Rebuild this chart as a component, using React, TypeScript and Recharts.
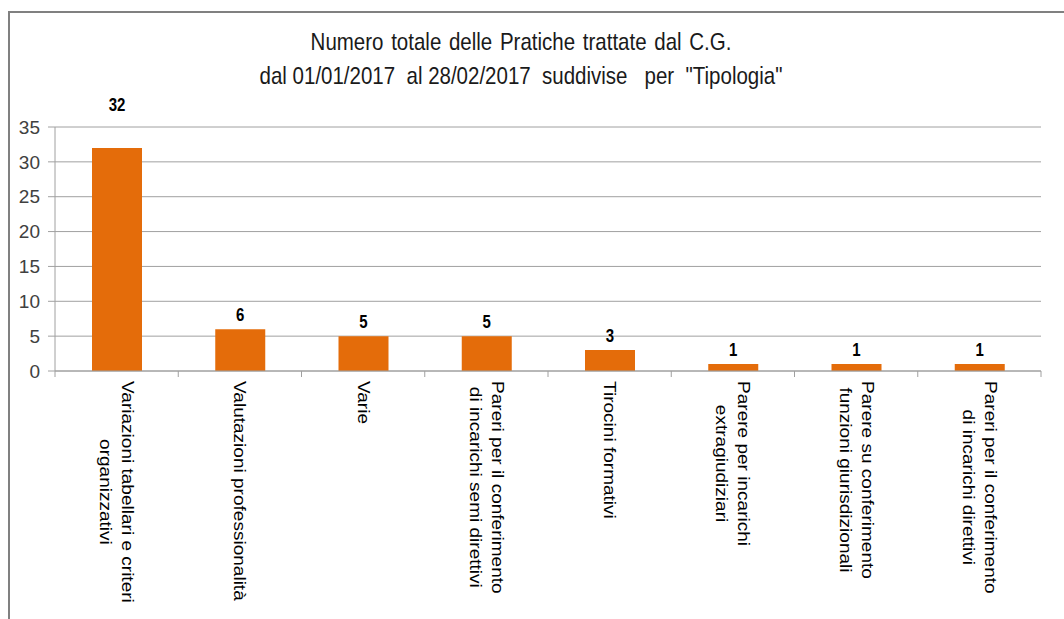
import { Bar, BarChart, CartesianGrid, LabelList, XAxis, YAxis } from "recharts";

const categories = [
  "Variazioni tabellari e criteri\norganizzativi",
  "Valutazioni professionalità",
  "Varie",
  "Pareri per il conferimento\ndi incarichi semi direttivi",
  "Tirocini formativi",
  "Parere per incarichi\nextragiudiziari",
  "Parere su conferimento\nfunzioni giurisdizionali",
  "Pareri per il conferimento\ndi incarichi direttivi",
];
const pratiche = [32, 6, 5, 5, 3, 1, 1, 1];
const yTicks = [0, 5, 10, 15, 20, 25, 30, 35];
const titleLines = [
  "Numero totale delle Pratiche trattate dal C.G.",
  'dal 01/01/2017  al 28/02/2017  suddivise   per  "Tipologia"',
];

const W = 1064;
const H = 619;
const M = { top: 127, right: 23, bottom: 0, left: 0 };
const Y_AXIS_W = 55;
const X_AXIS_H = 248;
const PLOT_W = W - M.left - Y_AXIS_W - M.right;
const PLOT_BOTTOM = H - X_AXIS_H;
const STRETCH = 1.19; // the source image is stretched vertically
const FONT = "'Liberation Sans', Arial, sans-serif";
const LABEL_FONT = `16px ${FONT}`;
const GRID = "#a0a0a0";

const data = categories.map((name, i) => ({ name, value: pratiche[i] }));

let ctx: CanvasRenderingContext2D | null = null;
function textWidth(s: string) {
  if (!ctx) ctx = document.createElement("canvas").getContext("2d");
  if (!ctx) return s.length * 8;
  ctx.font = LABEL_FONT;
  return ctx.measureText(s).width;
}

function CategoryTick(props: any) {
  const { x, payload, index } = props;
  const band = PLOT_W / categories.length;
  const lines = String(payload.value).split("\n");
  const longest = Math.max(...lines.map(textWidth));
  const lineH = 22;
  const y0 = PLOT_BOTTOM + 10;
  return (
    <g>
      <line x1={x - band / 2} x2={x - band / 2} y1={PLOT_BOTTOM} y2={PLOT_BOTTOM + 6} stroke={GRID} />
      {index === categories.length - 1 && (
        <line x1={x + band / 2} x2={x + band / 2} y1={PLOT_BOTTOM} y2={PLOT_BOTTOM + 6} stroke={GRID} />
      )}
      <g transform={`translate(${x},${y0}) rotate(90) scale(${STRETCH},1)`}>
        {lines.map((line, i) => (
          <text
            key={i}
            x={longest / 2}
            y={(i - (lines.length - 1) / 2) * lineH}
            textAnchor="middle"
            dominantBaseline="central"
            style={{ font: LABEL_FONT }}
            fill="#000"
          >
            {line}
          </text>
        ))}
      </g>
    </g>
  );
}

function ValueLabel(props: any) {
  const { x, y, width, value } = props;
  const lift = value === Math.max(...pratiche) ? 37 : 8;
  return (
    <text
      transform={`translate(${x + width / 2},${y - lift}) scale(1,${STRETCH})`}
      textAnchor="middle"
      fontFamily={FONT}
      fontWeight="bold"
      fontSize={15}
      fill="#000"
    >
      {value}
    </text>
  );
}

export default function App() {
  return (
    <div style={{ position: "fixed", left: 0, top: 0, width: W, height: H, overflow: "hidden", background: "#fff" }}>
      <BarChart width={W} height={H} data={data} margin={M} barSize={50}>
        <CartesianGrid vertical={false} stroke={GRID} />
        <XAxis
          dataKey="name"
          height={X_AXIS_H}
          interval={0}
          tickLine={false}
          axisLine={{ stroke: GRID }}
          tick={<CategoryTick />}
        />
        <YAxis
          width={Y_AXIS_W}
          domain={[0, 35]}
          ticks={yTicks}
          tickSize={7}
          tickMargin={8}
          axisLine={{ stroke: GRID }}
          tickLine={{ stroke: GRID }}
          tick={{ fill: "#404040", fontSize: 19, fontFamily: FONT }}
        />
        <Bar dataKey="value" fill="#e46c0a" isAnimationActive={false}>
          <LabelList dataKey="value" content={<ValueLabel />} />
        </Bar>
      </BarChart>
      <svg width={W} height={H} style={{ position: "absolute", left: 0, top: 0, pointerEvents: "none" }}>
        <path d={`M9 ${H} V12 H${W}`} fill="none" stroke="#808080" strokeWidth={2} />
        {titleLines.map((t, i) => (
          <text
            key={i}
            transform={`translate(521,${50 + i * 34}) scale(1,${STRETCH})`}
            textAnchor="middle"
            fontFamily={FONT}
            fontSize={20.5}
            fill="#1a1a1a"
            style={{ whiteSpace: "pre", wordSpacing: i === 0 ? 2 : 0 }}
          >
            {t}
          </text>
        ))}
      </svg>
    </div>
  );
}
